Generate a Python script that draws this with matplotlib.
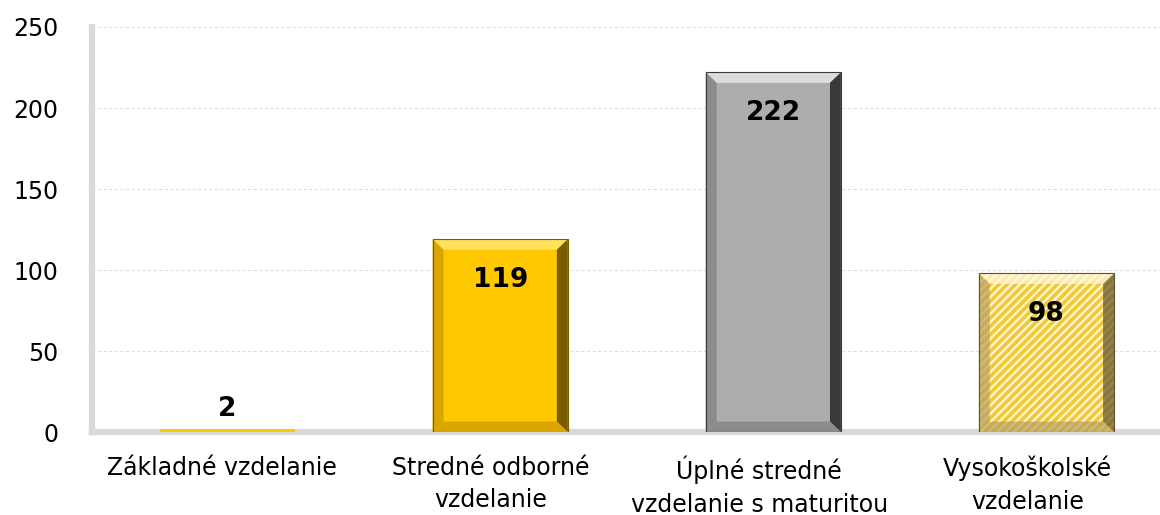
import matplotlib.pyplot as plt
from matplotlib.patches import Polygon
import numpy as np

categories = ["Základné vzdelanie", "Stredné odborné\nvzdelanie",
              "Úplné stredné\nvzdelanie s maturitou", "Vysokoškolské\nvzdelanie"]
values = [2, 119, 222, 98]
y_ticks = [0, 50, 100, 150, 200, 250]

face = ["#FFC800", "#FFC800", "#ADADAD", "#FFF8D0"]
light = ["#FFE15A", "#FFE15A", "#DCDCDC", "#FFFBE0"]
dark = ["#7A5C00", "#7A5C00", "#3A3A3A", "#5E5230"]
mid = ["#D9A600", "#D9A600", "#8C8C8C", "#B8A060"]

plt.rcParams["font.family"] = "DejaVu Sans"
plt.rcParams["hatch.linewidth"] = 2.6

fig = plt.figure(figsize=(11.6, 5.15), dpi=100)
ax = fig.add_axes([0.079, 0.161, 0.921, 0.7866])

x = np.arange(len(values))
bars = ax.bar(x, values, width=0.495, color=face, edgecolor="none", zorder=3)
bars[3].set_hatch("////")
bars[3].set_edgecolor("#F2C838")
bars[3].set_linewidth(0)

# bevel edges
bx, by = 0.04, 6.5
for i, b in enumerate(bars):
    x0, w, h = b.get_x(), b.get_width(), b.get_height()
    if h < 2 * by:
        continue
    x1, y1 = x0 + w, h
    pieces = [
        ([(x0, y1), (x1, y1), (x1 - bx, y1 - by), (x0 + bx, y1 - by)], light[i]),
        ([(x1, y1), (x1, 0), (x1 - bx, by), (x1 - bx, y1 - by)], dark[i]),
        ([(x0, y1), (x0, 0), (x0 + bx, by), (x0 + bx, y1 - by)], mid[i]),
        ([(x0, 0), (x1, 0), (x1 - bx, by), (x0 + bx, by)], mid[i]),
    ]
    for pts, c in pieces:
        ax.add_patch(Polygon(pts, closed=True, facecolor=c, edgecolor="none",
                             alpha=0.7 if i == 3 else 1, zorder=4))
    ax.add_patch(Polygon([(x0, 0), (x0, y1), (x1, y1), (x1, 0)], closed=True,
                         fill=False, edgecolor=dark[i], lw=0.8, zorder=5))

for b, v in zip(bars, values):
    yl = v - 25 if v > 30 else v + 12
    ax.text(b.get_x() + b.get_width() / 2, yl, str(v), ha="center", va="center",
            fontsize=19, fontweight="bold", zorder=6)

ax.set_xlim(-0.496, 3.416)
ax.set_ylim(0, 250)
ax.set_yticks(y_ticks)
# labels sit slightly left of the bars (3D depth offset)
ax.set_xticks(x - 0.018 - 0.017 * x)
ax.set_xticklabels(categories, linespacing=1.45)
ax.tick_params(axis="both", length=0, labelsize=17)
ax.tick_params(axis="y", pad=24)
ax.tick_params(axis="x", pad=17)
ax.yaxis.grid(True, color="#E0E0E0", lw=0.8, ls=(0, (3, 2)), zorder=0)
for s in ["top", "right"]:
    ax.spines[s].set_visible(False)
for s in ["left", "bottom"]:
    ax.spines[s].set_color("#D9D9D9")
    ax.spines[s].set_linewidth(4.5)

fig.savefig("out.png", dpi=100)
